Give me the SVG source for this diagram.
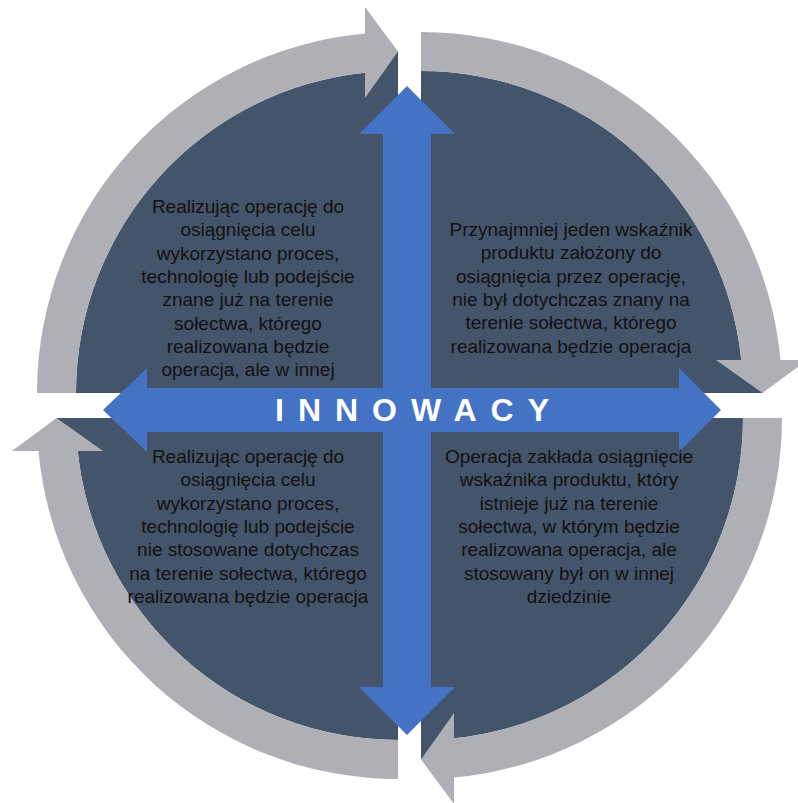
<svg xmlns="http://www.w3.org/2000/svg" width="798" height="803" viewBox="0 0 798 803">
<style>
.dark{fill:#44546A}
.band{fill:#AEB0B6}
.blue{fill:#4472C4}
.txt{font-family:"Liberation Sans",Arial,sans-serif;font-size:19px;fill:#111111;text-anchor:middle}
.title{font-family:"Liberation Sans",Arial,sans-serif;font-size:32px;font-weight:bold;fill:#FFFFFF;letter-spacing:14px}
</style>
<defs>
<path id="qdark" d="M0 0 L-322 0 A322 322 0 0 1 -33 -320.3 L0 -341.5 Z"/>
<path id="qband" d="M-361 0 A361 361 0 0 1 -33 -359.5 L-33 -386 L0 -341.5 L-33 -295 L-33 -320.3 A322 322 0 0 0 -322 0 Z"/>
</defs>
<rect width="798" height="803" fill="#FFFFFF"/>
<g id="quadrant-tl" transform="translate(398 393)">
<use href="#qdark" class="dark"/>
<use href="#qband" class="band"/>
</g>
<g id="quadrant-tr" transform="translate(421 393) rotate(90)">
<use href="#qdark" class="dark"/>
<use href="#qband" class="band"/>
</g>
<g id="quadrant-br" transform="translate(421 418) rotate(180)">
<use href="#qdark" class="dark"/>
<use href="#qband" class="band"/>
</g>
<g id="quadrant-bl" transform="translate(398 418) rotate(270)">
<use href="#qdark" class="dark"/>
<use href="#qband" class="band"/>
</g>
<g id="connectors">
<path class="blue" d="M407 86 L455 134 L431 134 L431 687 L455 687 L407 735 L359 687 L383 687 L383 134 L359 134 Z"/>
<path class="blue" d="M103 410 L147 368 L147 388 L679 388 L679 368 L721 410 L679 452 L679 432 L147 432 L147 452 Z"/>
</g>
<g id="center-label">
<text class="title" x="275" y="421">INNOWACY</text>
</g>
<g id="text-tl">
<text class="txt" x="248" y="213">Realizując operację do</text>
<text class="txt" x="248" y="236.3">osiągnięcia celu</text>
<text class="txt" x="248" y="259.6">wykorzystano proces,</text>
<text class="txt" x="248" y="283">technologię lub podejście</text>
<text class="txt" x="248" y="306.3">znane już na terenie</text>
<text class="txt" x="248" y="329.6">sołectwa, którego</text>
<text class="txt" x="248" y="353">realizowana będzie</text>
<text class="txt" x="248" y="376.3">operacja, ale w innej</text>
</g>
<g id="text-tr">
<text class="txt" x="571" y="236">Przynajmniej jeden wskaźnik</text>
<text class="txt" x="571" y="259.3">produktu założony do</text>
<text class="txt" x="571" y="282.6">osiągnięcia przez operację,</text>
<text class="txt" x="571" y="306">nie był dotychczas znany na</text>
<text class="txt" x="571" y="329.3">terenie sołectwa, którego</text>
<text class="txt" x="571" y="352.6">realizowana będzie operacja</text>
</g>
<g id="text-bl">
<text class="txt" x="248" y="463">Realizując operację do</text>
<text class="txt" x="248" y="486.3">osiągnięcia celu</text>
<text class="txt" x="248" y="509.6">wykorzystano proces,</text>
<text class="txt" x="248" y="533">technologię lub podejście</text>
<text class="txt" x="248" y="556.3">nie stosowane dotychczas</text>
<text class="txt" x="248" y="579.6">na terenie sołectwa, którego</text>
<text class="txt" x="248" y="603">realizowana będzie operacja</text>
</g>
<g id="text-br">
<text class="txt" x="569" y="463">Operacja zakłada osiągnięcie</text>
<text class="txt" x="569" y="486.3">wskaźnika produktu, który</text>
<text class="txt" x="569" y="509.6">istnieje już na terenie</text>
<text class="txt" x="569" y="533">sołectwa, w którym będzie</text>
<text class="txt" x="569" y="556.3">realizowana operacja, ale</text>
<text class="txt" x="569" y="579.6">stosowany był on w innej</text>
<text class="txt" x="569" y="603">dziedzinie</text>
</g>
</svg>
